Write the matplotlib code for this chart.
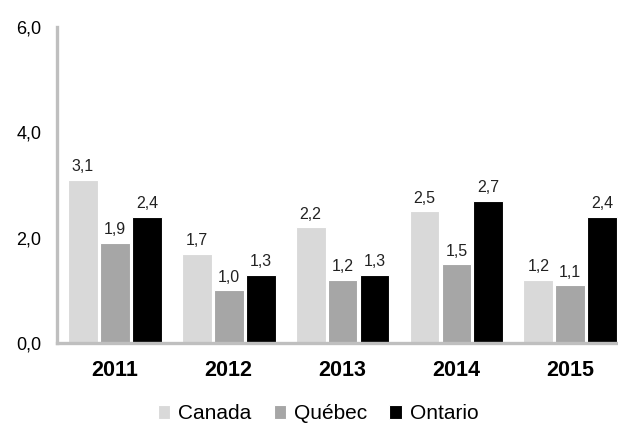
import numpy as np
import matplotlib.pyplot as plt

plt.rcParams['font.family'] = ['Liberation Sans', 'DejaVu Sans']

years = ["2011", "2012", "2013", "2014", "2015"]
canada = [3.1, 1.7, 2.2, 2.5, 1.2]
quebec = [1.9, 1.0, 1.2, 1.5, 1.1]
ontario = [2.4, 1.3, 1.3, 2.7, 2.4]

series = [("Canada", canada, "#d9d9d9"),
          ("Québec", quebec, "#a6a6a6"),
          ("Ontario", ontario, "#000000")]

fig = plt.figure(figsize=(6.18, 4.23), dpi=100)
ax = fig.add_axes([0.092, 0.189, 0.921, 0.747])

x = np.arange(len(years))
step = 0.281
width = 0.262
for i, (name, vals, col) in enumerate(series):
    pos = x + (i - 1) * step
    bars = ax.bar(pos, vals, width, color=col, edgecolor="white", linewidth=0.8, label=name)
    for b, v in zip(bars, vals):
        ax.annotate(f"{v:.1f}".replace(".", ","), (b.get_x() + b.get_width() / 2, v),
                    xytext=(0, 4), textcoords="offset points", ha="center", va="bottom",
                    fontsize=11.5, color="#222222")

ax.set_xlim(-0.51, len(years) - 0.51)
ax.set_ylim(0, 6)
ax.set_yticks([0, 2, 4, 6])
ax.set_yticklabels(["0,0", "2,0", "4,0", "6,0"], fontsize=13)
ax.set_xticks(x)
ax.set_xticklabels(years, fontsize=15.5, fontweight="bold")
ax.tick_params(axis="both", length=0)
ax.tick_params(axis="y", pad=11)
ax.tick_params(axis="x", pad=12)

for s in ["top", "right"]:
    ax.spines[s].set_visible(False)
for s in ["left", "bottom"]:
    ax.spines[s].set_color("#bfbfbf")
    ax.spines[s].set_linewidth(2.4)

fig.legend(loc="lower center", bbox_to_anchor=(0.515, -0.045), ncol=3, frameon=False,
           fontsize=15, handlelength=0.6, handleheight=0.6, handletextpad=0.4,
           columnspacing=1.05)

fig.savefig("out.png", dpi=100)
